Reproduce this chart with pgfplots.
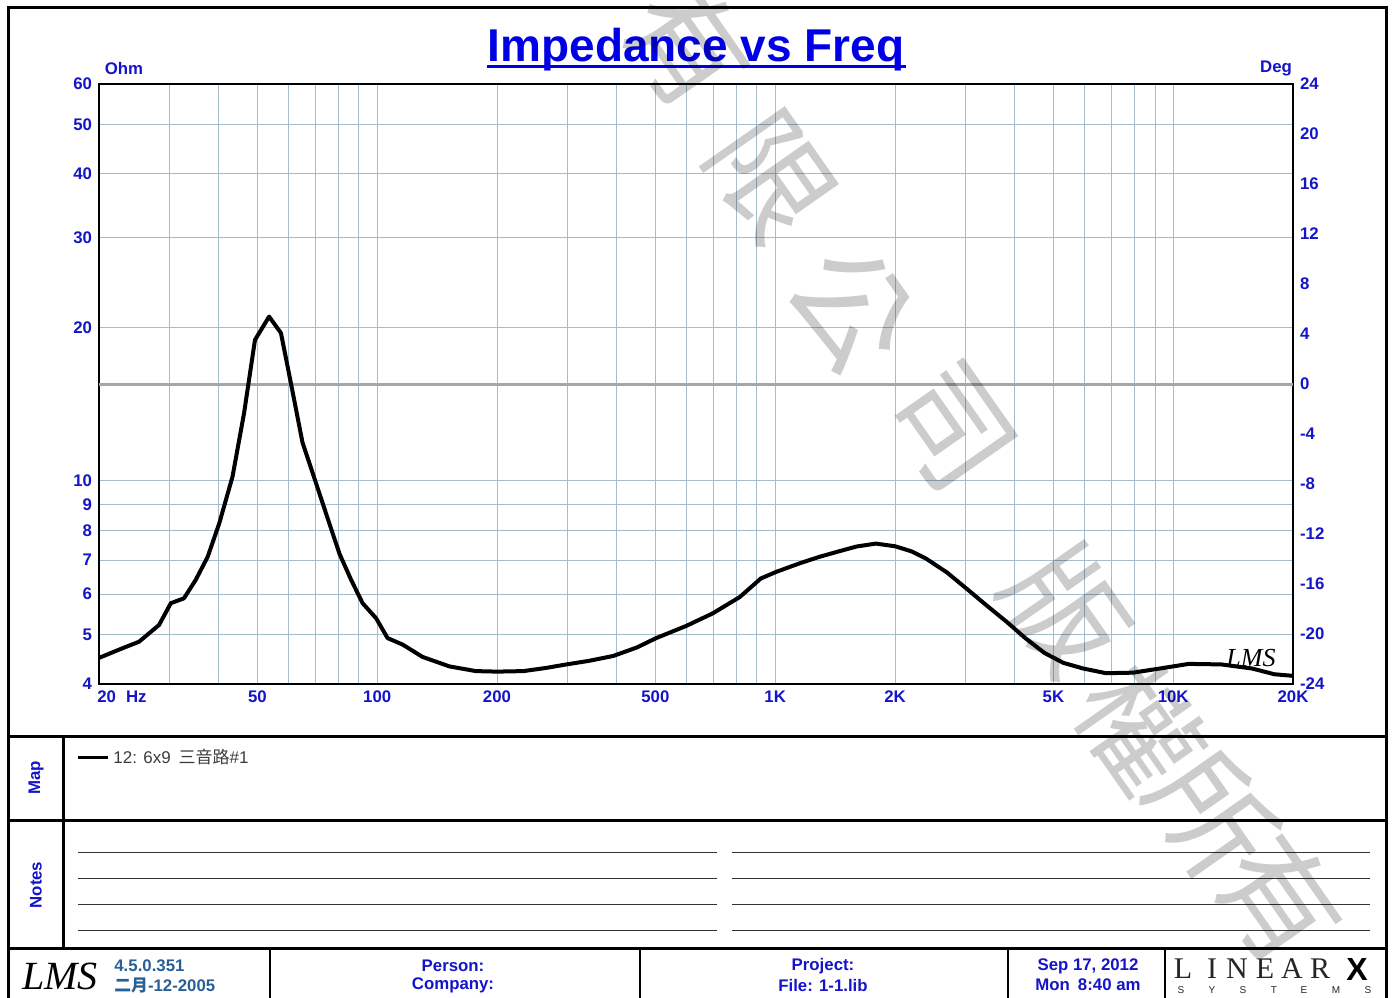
\documentclass[border=0pt]{standalone}
\usepackage{pgfplots}
\pgfplotsset{compat=1.18}
\usepackage{fontspec}
\setmainfont{Liberation Sans}
\newfontfamily\cjk{Noto Sans CJK TC}
\newfontfamily\seriffont{Liberation Serif}
\definecolor{lmsblue}{RGB}{20,20,200}
\definecolor{titleblue}{RGB}{0,0,230}
\definecolor{gridc}{RGB}{165,188,202}
\definecolor{verc}{RGB}{40,95,150}
\definecolor{legtext}{RGB}{60,60,60}

\pgfplotstableread{
f Z
20 4.50
22.9 4.70
25.2 4.84
28.3 5.22
30.3 5.76
32.7 5.89
35.0 6.40
37.5 7.10
40.1 8.26
43.3 10.2
46.3 13.6
49.3 18.9
53.5 21.0
57.3 19.5
60.7 15.55
64.9 11.9
70.2 9.9
75.8 8.26
80.4 7.2
86.0 6.40
91.9 5.76
99.4 5.38
106.2 4.92
115.8 4.78
130 4.52
152 4.33
177 4.24
200 4.23
233 4.24
265 4.30
299 4.37
340 4.44
392 4.54
450 4.72
502 4.92
598 5.2
696 5.5
814 5.92
920 6.44
1008 6.64
1154 6.9
1290 7.10
1436 7.27
1600 7.44
1790 7.54
2000 7.45
2200 7.28
2390 7.05
2700 6.62
3050 6.12
3400 5.70
3812 5.30
4250 4.92
4752 4.60
5300 4.40
5940 4.29
6780 4.20
7920 4.21
9260 4.29
10940 4.38
13200 4.37
15780 4.29
17960 4.18
20000 4.15
}\impedance

\begin{document}
\begin{tikzpicture}[x=0.5pt,y=-0.5pt]
\useasboundingbox (0,0) rectangle (1393,997);
\coordinate (AX) at (99,84);
\tikzset{lab/.style={font=\fontsize{8.4}{10}\selectfont\bfseries, text=lmsblue, inner sep=0pt}}

% title
\node[anchor=base, font=\fontsize{23}{27}\selectfont\bfseries, text=titleblue, inner sep=0pt] at (696,61) {Impedance vs Freq};
\draw[titleblue, line width=1.5pt] (487,66) -- (906,66);
\node[lab] at (124,68) {Ohm};
\node[lab] at (1276,68) {Deg};

% axis 1: grid + left ticks
\begin{axis}[
 at={(AX)}, anchor=north west,
 scale only axis, width=597pt, height=300pt,
 xmode=log, ymode=log, xmin=20, xmax=20000, ymin=4, ymax=60,
 xtick={20,30,40,50,60,70,80,90,100,200,300,400,500,600,700,800,900,1000,2000,3000,4000,5000,6000,7000,8000,9000,10000,20000},
 xticklabels={,,,50,,,,,100,200,,,500,,,,,1K,2K,,,5K,,,,,10K,20K},
 ytick={4,5,6,7,8,9,10,20,30,40,50,60},
 yticklabels={4,5,6,7,8,9,10,20,30,40,50,60},
 grid=major, major grid style={gridc, line width=0.5pt},
 major tick length=0pt, minor tick length=0pt,
 axis line style={black, line width=1pt},
 ticklabel style={font=\fontsize{8.4}{10}\selectfont\bfseries, text=lmsblue},
]
\addplot[draw=none] coordinates {(20,4)(20000,60)};
\end{axis}

% axis 2: right degree axis with zero line
\begin{axis}[
 at={(AX)}, anchor=north west,
 scale only axis, width=597pt, height=300pt,
 xmode=log, xmin=20, xmax=20000, ymin=-24, ymax=24,
 axis x line=none, axis y line*=right,
 ytick={-24,-20,-16,-12,-8,-4,0,4,8,12,16,20,24},
 yticklabels={-24,-20,-16,-12,-8,-4,0,4,8,12,16,20,24},
 major tick length=0pt,
 axis line style={black, line width=1pt},
 ticklabel style={font=\fontsize{8.4}{10}\selectfont\bfseries, text=lmsblue},
]
\addplot[color=black!35, line width=1.5pt] coordinates {(20,0)(20000,0)};
\end{axis}

% axis 3: impedance curve
\begin{axis}[
 at={(AX)}, anchor=north west,
 scale only axis, width=597pt, height=300pt,
 xmode=log, ymode=log, xmin=20, xmax=20000, ymin=4, ymax=60,
 hide axis, clip=false,
]
\addplot[black, line width=2pt, line join=round] table[x=f, y=Z] {\impedance};
\end{axis}

\node[lab, anchor=west] at (97,697) {20\hspace{5pt}Hz};
\node[font=\seriffont\itshape\fontsize{13}{13}\selectfont, inner sep=0pt] at (1251,658) {LMS};

% outer frame and panels
\draw[line width=1.5pt] (8,1010) -- (8,7) -- (1386,7) -- (1386,1010);
\draw[line width=1.5pt] (8,736) -- (1386,736);
\draw[line width=1.5pt] (8,820) -- (1386,820);
\draw[line width=1.5pt] (8,948) -- (1386,948);
\draw[line width=1.5pt] (63,736) -- (63,948);
\node[lab, rotate=90] at (36,778) {Map};
\node[lab, rotate=90] at (36,885) {Notes};

% legend
\draw[line width=1.5pt] (78,757) -- (108,757);
\node[anchor=west, inner sep=0pt, text=legtext, font=\fontsize{8.5}{10}\selectfont] at (113,757) {12: 6x9\hspace{4pt}{\cjk 三音路}\#1};

% notes lines
\foreach \yy in {852,878,904,930} {
  \draw[line width=0.5pt, black!80] (78,\yy) -- (717,\yy);
  \draw[line width=0.5pt, black!80] (732,\yy) -- (1370,\yy);
}

% footer
\foreach \xx in {270,640,1008,1165} {\draw[line width=1pt] (\xx,948) -- (\xx,1000);}
\node[font=\seriffont\itshape\fontsize{20}{20}\selectfont, inner sep=0pt] at (60,976) {LMS};
\node[lab, text=verc, anchor=west] at (114,966) {4.5.0.351};
\node[lab, text=verc, anchor=west] at (114,985) {{\cjk 二月}-12-2005};
\node[lab] at (453,966) {Person:};
\node[lab] at (453,985) {Company:};
\node[lab] at (823,966) {Project:};
\node[lab] at (823,985) {File: 1-1.lib};
\node[lab] at (1088,966) {Sep 17, 2012};
\node[lab] at (1088,985) {Mon\hspace{4pt}8:40 am};
\foreach \ch/\xx in {L/1183,I/1212,N/1237,E/1265,A/1292,R/1320} {
  \node[font=\seriffont\fontsize{15}{15}\selectfont, inner sep=0pt, text=black!85] at (\xx,969) {\ch};
}
\node[font=\fontsize{16}{16}\selectfont\bfseries, inner sep=0pt] at (1357,969) {X};
\foreach \ch/\xx in {S/1181,Y/1212,S/1243,T/1274,E/1304,M/1336,S/1368} {
  \node[font=\fontsize{5}{5}\selectfont, inner sep=0pt, text=black!85] at (\xx,990) {\ch};
}

% watermark
\foreach \ch/\xx/\yy in {有/688/45,限/770/177,公/852/308,司/950/427,版/1067/610,權/1140/727,所/1213/815,有/1280/900} {
  \node[rotate=-55, font=\cjk\fontsize{60}{60}\selectfont, text=black, text opacity=0.2, inner sep=0pt] at (\xx,\yy) {\ch};
}
\end{tikzpicture}
\end{document}
